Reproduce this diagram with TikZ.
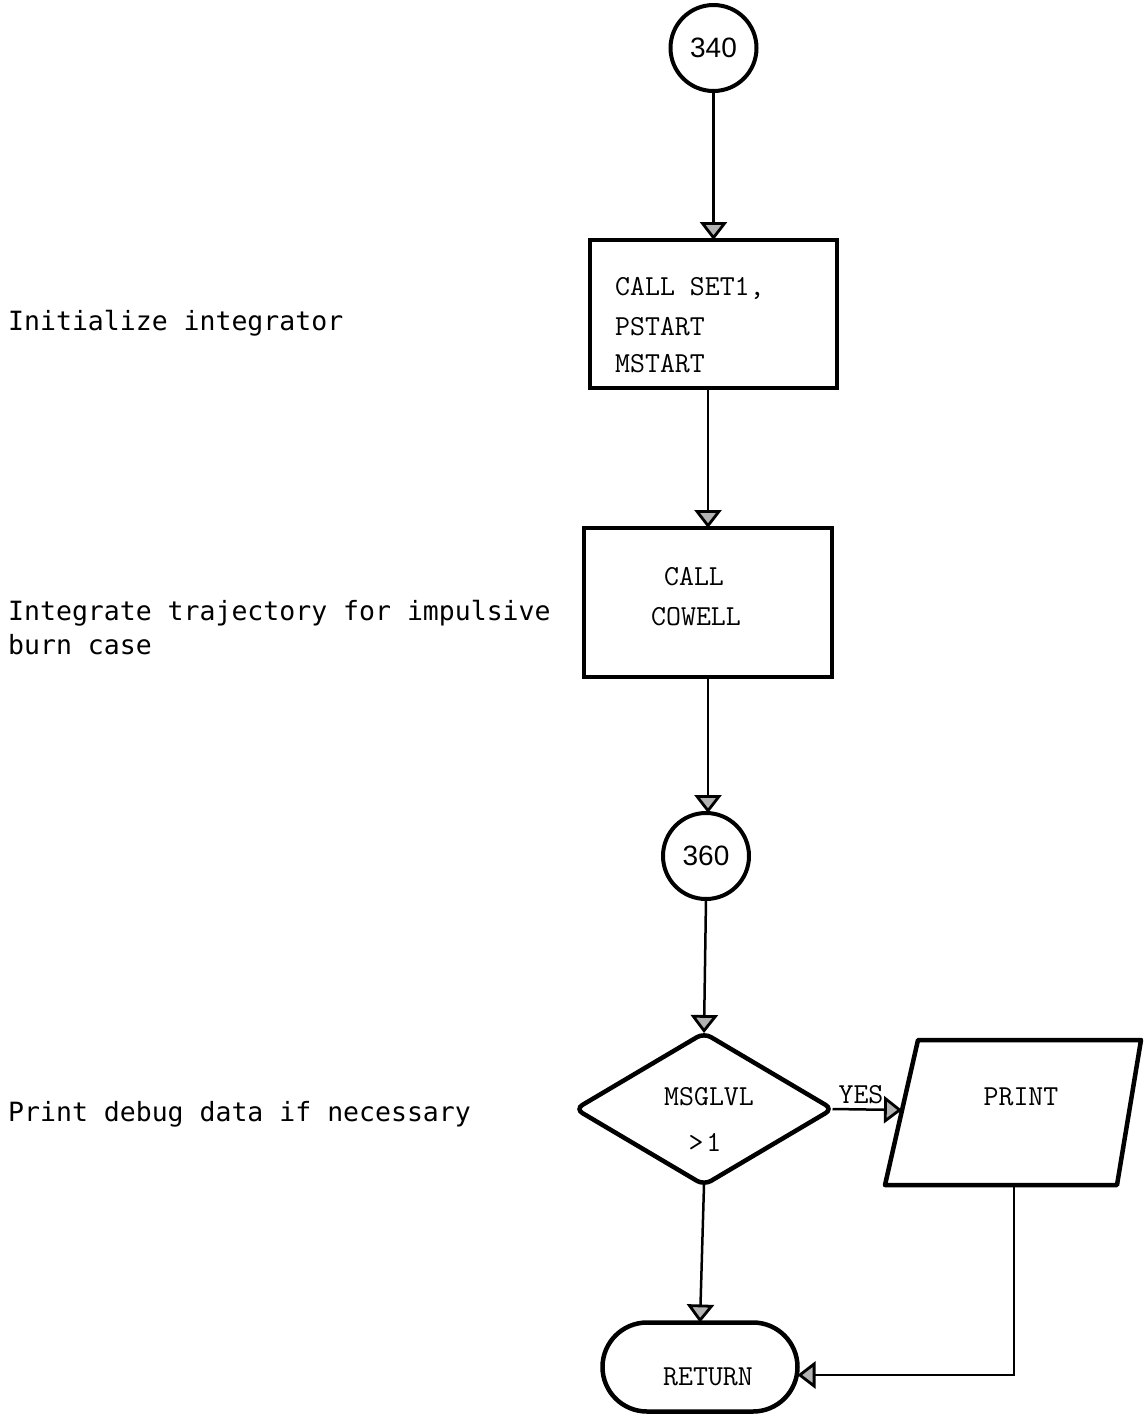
\documentclass[tikz,border=0pt]{standalone}
\usepackage{fontspec}
\newfontfamily\gothic{DejaVu Sans Mono}
\newfontfamily\numf{Liberation Sans}
\usetikzlibrary{arrows.meta,shapes.geometric,shapes.misc}
\begin{document}
\begin{tikzpicture}[x=1pt,y=-1pt,
  shapebox/.style={draw, line width=4.5pt, inner sep=0pt, outer sep=0pt},
  conn/.style={line width=2.5pt},
  arr/.style={conn, -{Triangle[open, width=27pt, length=18pt, line width=2.8pt, fill=black!30]}},
  boxtxt/.style={font=\ttfamily\fontsize{29}{32}\selectfont, inner sep=0pt},
  note/.style={font=\gothic\fontsize{26.5}{35}\selectfont, anchor=base west, inner sep=0pt},
  circ/.style={draw, circle, line width=4pt, minimum size=86pt, inner sep=0pt, outer sep=0pt,
               font=\numf\fontsize{28}{30}\selectfont}]
\fill[white] (0,0) rectangle (1144,1417);
\useasboundingbox (0,0) rectangle (1144,1417);

% shapes
\node[circ] (c340) at (713.5,48) {340};
\node[shapebox, minimum width=247pt, minimum height=148pt] (b1) at (713.5,314) {};
\node[shapebox, minimum width=248pt, minimum height=149pt] (b2) at (708,602.5) {};
\node[circ] (c360) at (706,856) {360};
\node[shapebox, diamond, minimum width=257pt, minimum height=152pt, rounded corners=8pt] (dec) at (704,1109) {};
\draw[line width=4.5pt, line join=round]
  (918,1040) coordinate (p1) -- (1141,1040) coordinate (p2) --
  (1117,1185) coordinate (p3) -- (885,1185) coordinate (p4) -- cycle;
\coordinate (pin) at (902,1110);
\coordinate (pout) at (1014,1185);
\node[shapebox, rounded rectangle, minimum width=195pt, minimum height=89pt] (ret) at (700,1367) {};

% texts in shapes
\node[boxtxt, anchor=base west] (t1a) at (615,295) {CALL SET1,};
\node[boxtxt, anchor=base west] (t1b) at (615,335) {PSTART};
\node[boxtxt, anchor=base west] (t1c) at (615,372) {MSTART};
\node[boxtxt, anchor=base] (t2a) at (694,585) {CALL};
\node[boxtxt, anchor=base] (t2b) at (696,625) {COWELL};
\node[boxtxt, anchor=base] (t3a) at (709,1105) {MSGLVL};
\node[boxtxt, anchor=base] (t3b) at (705,1151) {>\hspace{3pt}1};
\node[boxtxt, anchor=base] (yes) at (861,1103) {YES};
\node[boxtxt, anchor=base] (pr) at (1021,1105) {PRINT};
\node[boxtxt, anchor=base] (rt) at (708,1385) {RETURN};

% notes
\node[note] (n1) at (8,330) {Initialize integrator};
\node[note] (n2) at (8,620) {Integrate trajectory for impulsive};
\node[note] (n3) at (8,654) {burn case};
\node[note] (n4) at (8,1121) {Print debug data if necessary};

% connectors
\draw[arr] (c340.south) -- (c340.south |- b1.north);
\draw[arr] (b2.north |- b1.south) -- (b2.north);
\draw[arr] (b2.south) -- (b2.south |- c360.north);
\draw[arr] (c360.south) -- (dec.north);
\draw[arr] (dec.east) -- (pin);
\draw[arr] (dec.south) -- (ret.north);
\draw[arr] (pout) |- ([yshift=-8pt]ret.east);
\end{tikzpicture}
\end{document}
